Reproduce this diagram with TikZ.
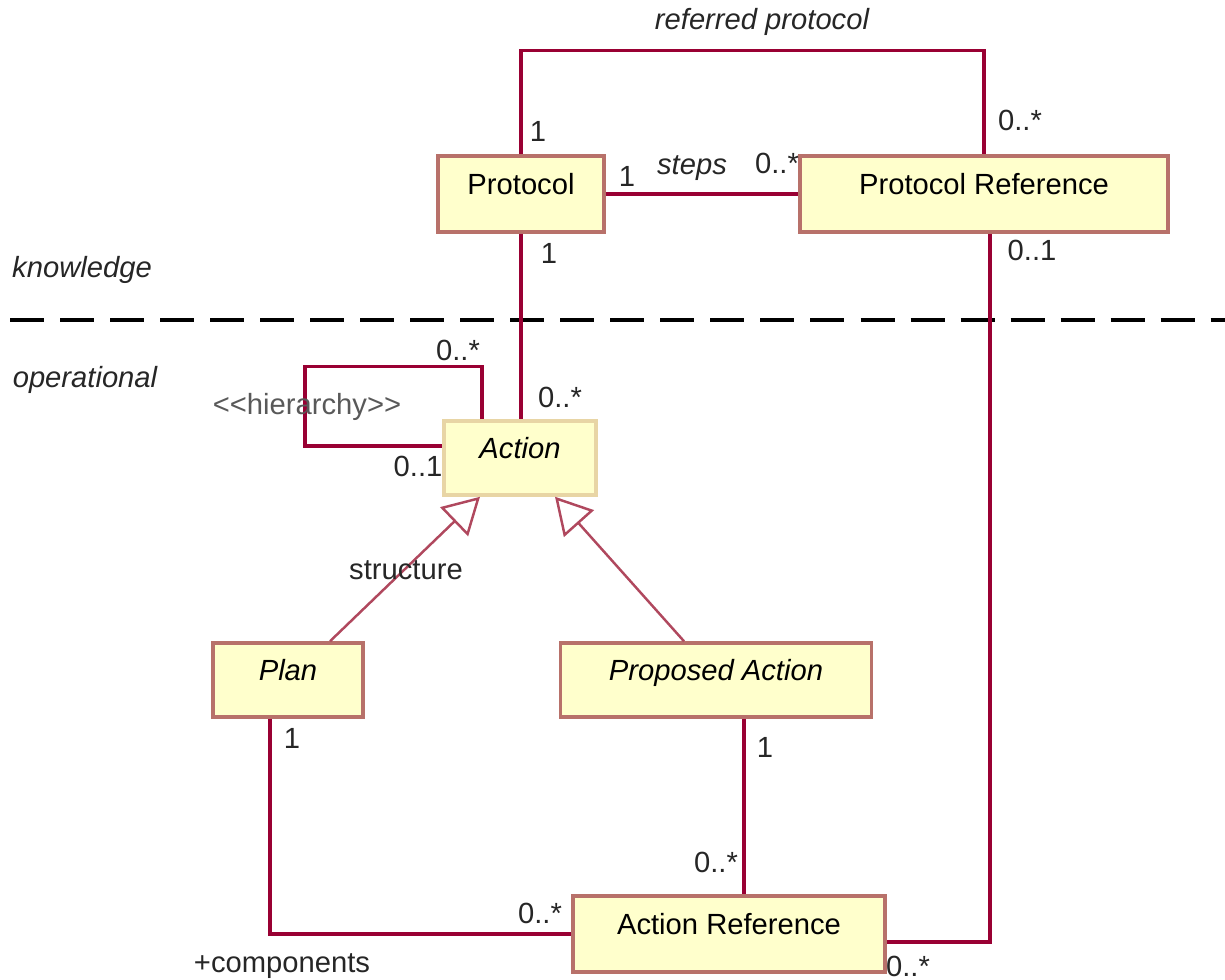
\documentclass[tikz,border=0pt]{standalone}
\usepackage{fontspec}
\setmainfont{Liberation Sans}
\usepackage{tikz}
\usetikzlibrary{calc}
\usetikzlibrary{positioning}
\usetikzlibrary{arrows.meta}

\definecolor{assoccol}{HTML}{990033}
\definecolor{gencol}{HTML}{B0485E}
\definecolor{boxfill}{HTML}{FFFFCC}
\definecolor{boxline}{HTML}{B8716A}
\definecolor{absline}{HTML}{E8D5A5}

\begin{document}
\begin{tikzpicture}[x=0.01cm, y=-0.01cm, font=\fontsize{8.3}{10}\selectfont,
    cls/.style={draw=boxline, fill=boxfill, line width=1pt, inner sep=0pt,
      text height=0.38cm, text depth=0.38cm},
    assoc/.style={assoccol, line width=0.9pt},
    gen/.style={gencol, line width=0.7pt, -{Triangle[open, fill=white, length=3.6mm, width=4mm]}},
    mult/.style={inner sep=0pt, text=black!85}]
    \useasboundingbox (0, 0) rectangle (1225, 979);

    % classes
    \node[cls, minimum width=1.66cm] (protocol) at (521, 194) {Protocol};
    \node[cls, minimum width=3.68cm] (protref) at (984, 194) {Protocol Reference};
    \node[cls, draw=absline, minimum width=1.52cm, text height=0.37cm, text depth=0.37cm] (action) at (520, 458) {\itshape Action};
    \node[cls, minimum width=1.50cm, text height=0.37cm, text depth=0.37cm] (plan) at (288, 680) {\itshape Plan};
    \node[cls, minimum width=3.11cm, text height=0.37cm, text depth=0.37cm] (propact) at (716, 680) {\itshape Proposed Action};
    \node[cls, minimum width=3.12cm] (actref) at (729, 934) {Action Reference};

    % knowledge / operational border
    \draw[black, line width=1.1pt, dash pattern=on 0.34cm off 0.16cm] (10, 320) -- (1225, 320);
    \node[mult, font=\fontsize{8.3}{10}\selectfont\itshape] (knowl) at (82, 270) {knowledge};
    \node[mult, font=\fontsize{8.3}{10}\selectfont\itshape] (operat) at (85, 380) {operational};

    % associations
    \draw[assoc] (protocol.north) -- ++(0, -104) -| (protref.north);
    \draw[assoc] (protocol.east) -- (protref.west);
    \draw[assoc] (protocol.south) -- (protocol.south |- action.north);
    \draw[assoc] ([xshift=0.06cm]protref.south) |- ([yshift=-0.08cm]actref.east);
    \draw[assoc] ([xshift=-0.38cm]action.north) -- ++(0, -53) -- ++(-177, 0) |- ([yshift=0.12cm]action.west);
    \draw[assoc] ([xshift=-0.18cm]plan.south) |- (actref.west);
    \draw[assoc] ([xshift=0.28cm]propact.south) -- ([xshift=0.28cm]propact.south |- actref.north);

    % generalizations
    \draw[gen] ([xshift=0.42cm]plan.north) -- ([xshift=-0.40cm]action.south);
    \draw[gen] ([xshift=-0.32cm]propact.north) -- ([xshift=0.35cm]action.south);

    % role names and multiplicities
    \node[mult, font=\fontsize{8.3}{10}\selectfont\itshape] (lrefer) at (762, 22) {referred protocol};
    \node[mult] (m1) at (538, 131) {1};
    \node[mult] (m2) at (1020, 120) {0..*};
    \node[mult] (m3) at (627, 176) {1};
    \node[mult, font=\fontsize{8.3}{10}\selectfont\itshape] (lsteps) at (692, 168) {steps};
    \node[mult] (m4) at (777, 163) {0..*};
    \node[mult] (m5) at (549, 253) {1};
    \node[mult] (m6) at (1032, 250) {0..1};
    \node[mult] (m7) at (458, 350) {0..*};
    \node[mult] (m8) at (560, 397) {0..*};
    \node[mult, text=black!65] (lhier) at (307, 407) {<\kern0pt<hierarchy>\kern0pt>};
    \node[mult] (m9) at (418, 466) {0..1};
    \node[mult] (lstruct) at (406, 570) {structure};
    \node[mult] (m10) at (292, 738) {1};
    \node[mult] (m11) at (765, 747) {1};
    \node[mult] (m12) at (716, 862) {0..*};
    \node[mult] (m13) at (540, 913) {0..*};
    \node[mult] (lcomp) at (282, 966) {+components};
    \node[mult] (m14) at (908, 966) {0..*};
\end{tikzpicture}
\end{document}
